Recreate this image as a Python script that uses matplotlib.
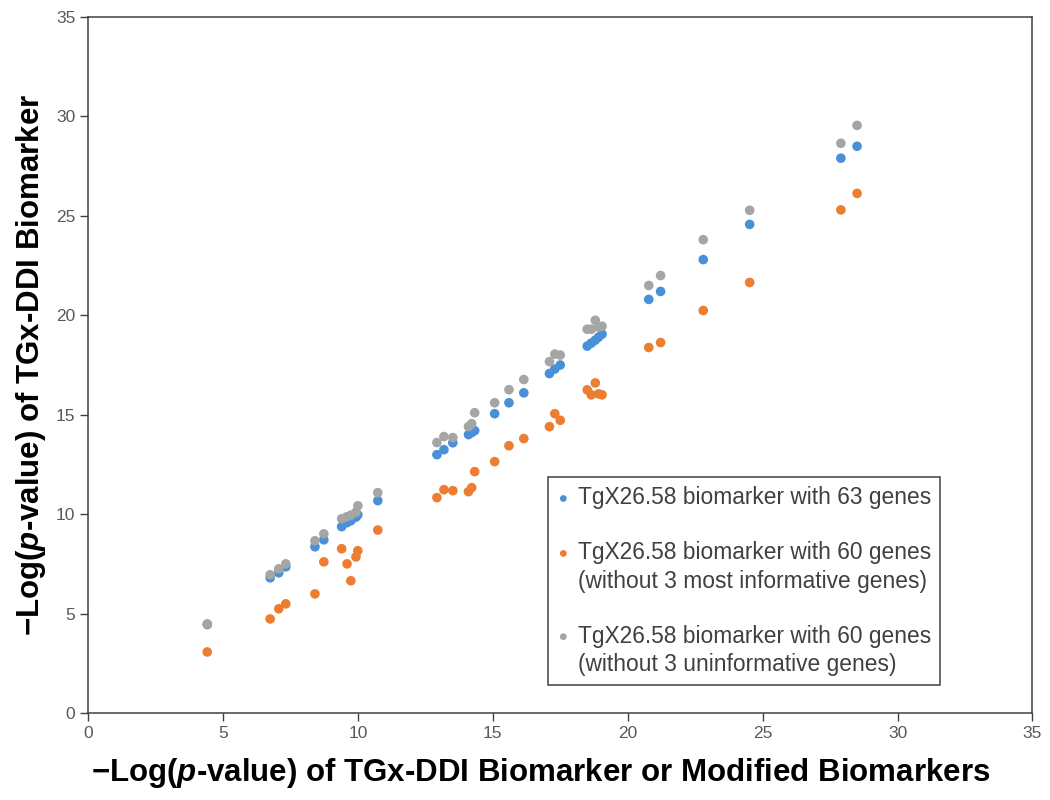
import numpy as np
import matplotlib
matplotlib.use('Agg')
import matplotlib.pyplot as plt
from matplotlib.legend_handler import HandlerPathCollection

plt.rcParams['font.family'] = ['Liberation Sans', 'DejaVu Sans']
plt.rcParams['mathtext.fontset'] = 'custom'
plt.rcParams['mathtext.rm'] = 'Liberation Sans:bold'
plt.rcParams['mathtext.it'] = 'Liberation Sans:bold:italic'

# -log(p) of the original / modified biomarkers (shared x per sample)
x_vals = [4.42, 6.75, 7.07, 7.33, 8.41, 8.74, 9.40, 9.60, 9.74, 9.93, 10.00,
          10.74, 12.93, 13.19, 13.52, 14.10, 14.22, 14.33, 15.07, 15.60, 16.15,
          17.10, 17.30, 17.50, 18.50, 18.65, 18.80, 18.92, 19.05, 20.78, 21.22,
          22.80, 24.52, 27.90, 28.50]

# TgX26.58 with 63 genes
y_63 = [4.45, 6.80, 7.05, 7.35, 8.36, 8.71, 9.37, 9.57, 9.67, 9.85, 9.97,
        10.68, 12.99, 13.24, 13.59, 14.00, 14.10, 14.20, 15.05, 15.60, 16.10,
        17.07, 17.30, 17.50, 18.45, 18.60, 18.75, 18.90, 19.05, 20.80, 21.20,
        22.80, 24.57, 27.90, 28.50]

# 60 genes, without 3 most informative
y_60_most = [3.07, 4.73, 5.24, 5.49, 5.99, 7.60, 8.26, 7.50, 6.65, 7.85, 8.16,
             9.20, 10.83, 11.23, 11.18, 11.13, 11.33, 12.14, 12.64, 13.44, 13.80,
             14.40, 15.05, 14.72, 16.25, 16.00, 16.60, 16.05, 16.00, 18.38, 18.63,
             20.24, 21.65, 25.30, 26.13]

# 60 genes, without 3 uninformative
y_60_uninf = [4.48, 6.95, 7.25, 7.50, 8.66, 9.01, 9.77, 9.87, 9.95, 10.10, 10.42,
              11.08, 13.60, 13.90, 13.85, 14.40, 14.55, 15.10, 15.60, 16.26, 16.77,
              17.67, 18.05, 18.00, 19.30, 19.30, 19.75, 19.40, 19.45, 21.50, 22.00,
              23.80, 25.28, 28.65, 29.55]

labels = ['TgX26.58 biomarker with 63 genes',
          'TgX26.58 biomarker with 60 genes\n(without 3 most informative genes)',
          'TgX26.58 biomarker with 60 genes\n(without 3 uninformative genes)']
colors = ['#4a90d9', '#ed7d31', '#a5a5a5']

fig = plt.figure(figsize=(10.5, 8), dpi=100)
ax = fig.add_axes([0.0838, 0.10875, 0.8995, 0.87])

pts = []
for yv, lab, col in zip([y_63, y_60_most, y_60_uninf], labels, colors):
    pts.append(ax.scatter(x_vals, yv, s=48, color=col, label=lab, edgecolors='none'))

ax.set_xlim(0, 35)
ax.set_ylim(0, 35)
ax.set_xticks(np.arange(0, 36, 5))
ax.set_yticks(np.arange(0, 36, 5))
ax.tick_params(direction='out', length=6, width=1, color='#404040',
               labelsize=12.5, labelcolor='#595959', pad=3)
for sp in ax.spines.values():
    sp.set_color('#404040')
    sp.set_linewidth(1.1)

ax.set_xlabel(r'−Log($\mathit{p}$-value) of TGx-DDI Biomarker or Modified Biomarkers',
              fontsize=22.5, fontweight='bold', labelpad=12)
ax.xaxis.set_label_coords(0.479, -0.062, transform=ax.transAxes)
ax.xaxis.label.set_va('top')
ax.set_ylabel(r'−Log($\mathit{p}$-value) of TGx-DDI Biomarker',
              fontsize=22.5, fontweight='bold', labelpad=6)

# put the marker next to the first line of two-line labels
hmap = {pts[1]: HandlerPathCollection(yoffsets=[1.42]),
        pts[2]: HandlerPathCollection(yoffsets=[1.42])}
leg = ax.legend(loc='lower left', bbox_to_anchor=(0.487, 0.040), fontsize=16.4,
                frameon=True, fancybox=False, edgecolor='#222222',
                markerscale=0.7, handletextpad=0.35, labelspacing=1.4,
                borderpad=0.4, handlelength=0.55, borderaxespad=0,
                handler_map=hmap)
leg.get_frame().set_linewidth(1.2)
for t in leg.get_texts():
    t.set_color('#404040')
    t.set_linespacing(1.3)

fig.savefig('out.png', dpi=100)
